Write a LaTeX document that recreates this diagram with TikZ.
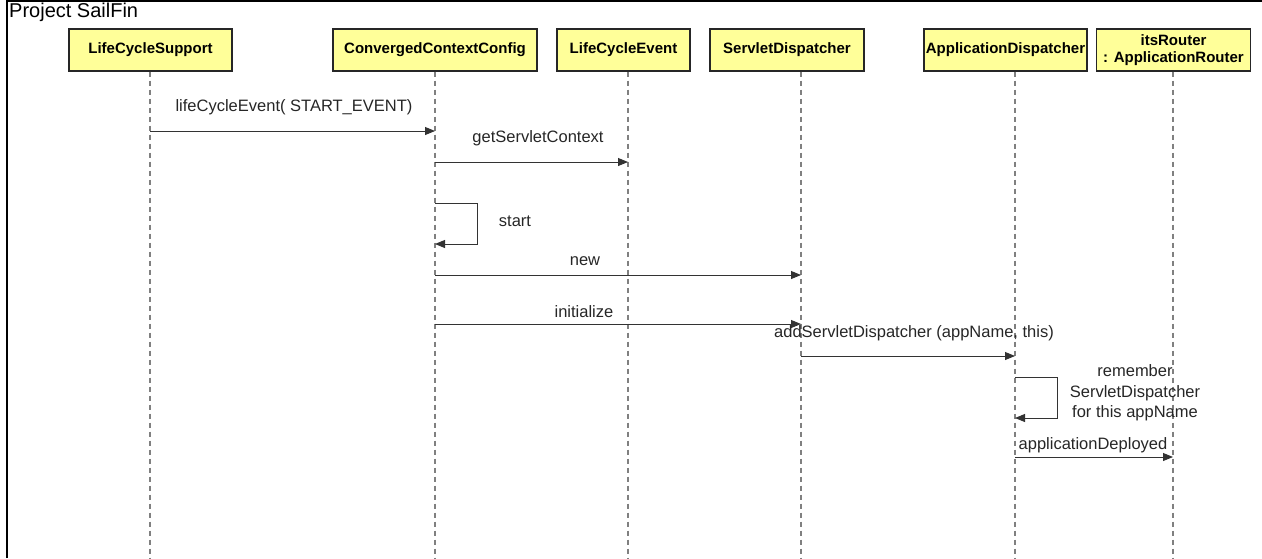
\documentclass[tikz,border=0pt]{standalone}
\usepackage{fontspec}
\setmainfont{Liberation Sans}
\usetikzlibrary{arrows.meta}
\definecolor{boxfill}{HTML}{FFFF99}
\definecolor{lifegray}{HTML}{808080}
\tikzset{
  x=1pt, y=-1pt,
  obj/.style={draw=black!85, line width=1.3pt, fill=boxfill, minimum height=42pt,
    inner sep=0pt, align=center, font=\fontsize{15}{18}\selectfont\bfseries},
  life/.style={draw=lifegray, line width=1.1pt, dash pattern=on 5pt off 4pt},
  msg/.style={draw=black!80, line width=0.9pt, -{Triangle[length=10pt,width=8pt]}},
  lbl/.style={inner sep=0pt, font=\fontsize{16.5}{20}\selectfont, text=black!85},
}
\begin{document}
\begin{tikzpicture}
\useasboundingbox (0,0) rectangle (1262,558);
% frame
\draw[line width=1.3pt] (7,558) -- (7,1) -- (1262,1);
\node[anchor=west, inner sep=0pt, font=\fontsize{20}{24}\selectfont] (title) at (9,12) {Project SailFin};

% participants
\node[obj, minimum width=163pt] (lcs) at (150.5,50) {LifeCycleSupport};
\node[obj, minimum width=204pt] (ccc) at (435,50) {ConvergedContextConfig};
\node[obj, minimum width=133pt] (lce) at (623.5,50) {LifeCycleEvent};
\node[obj, minimum width=154pt] (sd) at (787,50) {ServletDispatcher};
\node[obj, minimum width=163pt] (ad) at (1005.5,50) {ApplicationDispatcher};
\node[obj, minimum width=154pt, font=\fontsize{15}{17.5}\selectfont\bfseries] (ar) at (1173.5,50) {itsRouter\\: ApplicationRouter};

% lifelines
\coordinate (lcsx) at (150,558);
\coordinate (cccx) at (435,558);
\coordinate (lcex) at (628,558);
\coordinate (sdx) at (801,558);
\coordinate (adx) at (1015,558);
\coordinate (arx) at (1173,558);
\draw[life] (lcsx |- lcs.south) -- (lcsx);
\draw[life] (cccx |- ccc.south) -- (cccx);
\draw[life] (lcex |- lce.south) -- (lcex);
\draw[life] (sdx |- sd.south) -- (sdx);
\draw[life] (adx |- ad.south) -- (adx);
\draw[life] (arx |- ar.south) -- (arx);

% messages
\draw[msg] (lcsx |- 0,131) -- (cccx |- 0,131);
\node[lbl] (m1) at (294,107) {lifeCycleEvent( START\_EVENT)};

\draw[msg] (cccx |- 0,162) -- (lcex |- 0,162);
\node[lbl] (m2) at (538,138) {getServletContext};

\draw[msg] (cccx |- 0,203) -- (477,203) -- (477,244) -- (cccx |- 0,244);
\node[lbl] (m3) at (515,221) {start};

\draw[msg] (cccx |- 0,275) -- (sdx |- 0,275);
\node[lbl] (m4) at (585,261) {new};

\draw[msg] (cccx |- 0,324) -- (sdx |- 0,324);
\node[lbl] (m5) at (584,312) {initialize};

\draw[msg] (sdx |- 0,356) -- (adx |- 0,356);
\node[lbl] (m6) at (914,333) {addServletDispatcher (appName, this)};

\draw[msg] (adx |- 0,377) -- (1057,377) -- (1057,418) -- (adx |- 0,418);
\node[lbl, align=center, font=\fontsize{16.5}{20.5}\selectfont] (m7) at (1135,393)
  {remember\\ServletDispatcher\\for this appName};

\draw[msg] (adx |- 0,457) -- (arx |- 0,457);
\node[lbl] (m8) at (1093,445) {applicationDeployed};
\end{tikzpicture}
\end{document}
